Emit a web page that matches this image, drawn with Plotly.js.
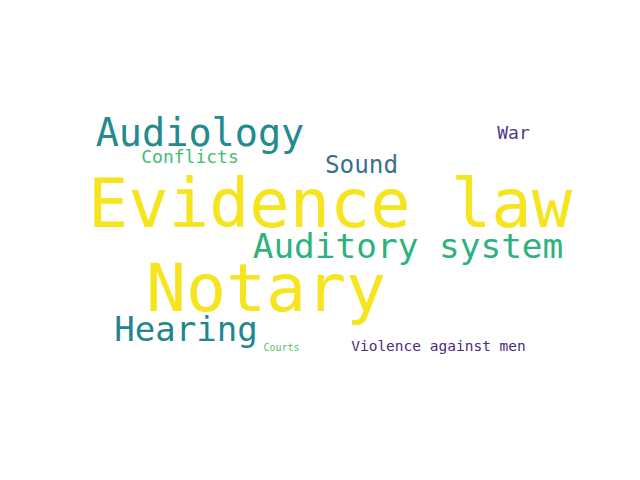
<!DOCTYPE html>
<html>
<head>
<meta charset="utf-8">
<script src="https://cdn.plot.ly/plotly-3.0.1.min.js"></script>
<style>html,body{margin:0;padding:0;background:#fff;}#chart{width:640px;height:480px;}</style>
</head>
<body>
<div id="chart"></div>
<script>
// Word cloud content
var words = ["Evidence law", "Notary", "Audiology", "Auditory system", "Hearing", "Sound", "War", "Conflicts", "Violence against men", "Courts"];
// relative weight of each word (font size in px)
var weights = [67, 66.5, 38.5, 34.4, 34, 24.3, 18, 18, 14.5, 10];
// colour of each word (viridis samples)
var colors = ["#f5e41e", "#f5e41e", "#238a8d", "#2db27d", "#23868e", "#3a708c", "#4b3a87", "#3fbc73", "#4b2d7d", "#52c569"];
// placement of each word in the cloud (layout space 0..640 x 0..480)
var posX = [330, 266, 200, 408, 186, 361.5, 513.5, 190, 438.5, 281.5];
var posY = [210, 294, 136, 249, 332, 167, 134, 158, 347, 348];

var trace = {
  type: "scatter",
  mode: "text",
  x: posX,
  y: posY,
  text: words,
  textposition: "middle center",
  textfont: {
    family: "DejaVu Sans Mono, monospace",
    size: weights,
    color: colors
  },
  hoverinfo: "none",
  showlegend: false
};

var layout = {
  width: 640,
  height: 480,
  margin: {l: 0, r: 0, t: 0, b: 0},
  paper_bgcolor: "#ffffff",
  plot_bgcolor: "#ffffff",
  xaxis: {range: [0, 640], visible: false, fixedrange: true},
  yaxis: {range: [480, 0], visible: false, fixedrange: true},
  showlegend: false
};

Plotly.newPlot("chart", [trace], layout, {staticPlot: true, displayModeBar: false});
</script>
</body>
</html>
